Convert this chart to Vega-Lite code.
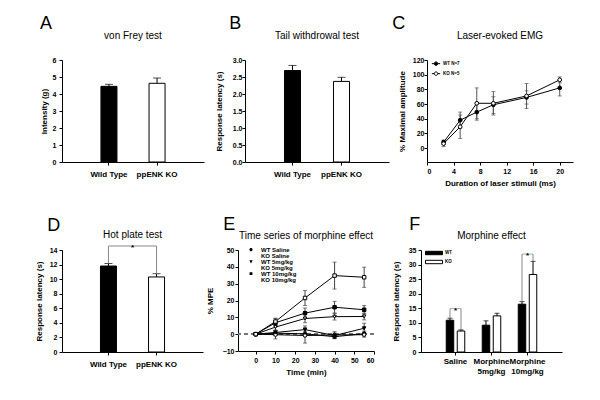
{
"$schema": "https://vega.github.io/schema/vega-lite/v6.json",
"padding": {"left": 35, "top": 15, "right": 5, "bottom": 5},
"config": {
 "font": "Liberation Sans",
 "view": {"stroke": null},
 "axis": {"domainColor": "black", "tickColor": "black", "labelColor": "black", "titleColor": "black", "labelFontWeight": "bold", "labelFontSize": 7, "titleFontSize": 8, "titleFontWeight": "bold", "grid": false, "tickSize": 3, "labelPadding": 2, "titlePadding": 5},
 "title": {"fontSize": 10, "fontWeight": "normal", "color": "black", "font": "Liberation Sans"},
 "legend": {"labelColor": "black"}
},
"resolve": {"scale": {"fill": "independent", "shape": "independent"}, "legend": {"fill": "independent", "shape": "independent"}},
"datasets": {
 "A": [{"g": "Wild Type", "v": 4.45, "hi": 4.57}, {"g": "ppENK KO", "v": 4.63, "hi": 4.94}],
 "B": [{"g": "Wild Type", "v": 2.69, "hi": 2.84}, {"g": "ppENK KO", "v": 2.37, "hi": 2.49}],
 "D": [{"g": "Wild Type", "v": 11.8, "hi": 12.15}, {"g": "ppENK KO", "v": 10.3, "hi": 10.75}],
 "Dbr": [{"g": "Wild Type", "y": 12.15, "o": 0}, {"g": "Wild Type", "y": 14.55, "o": 1}, {"g": "ppENK KO", "y": 14.55, "o": 2}, {"g": "ppENK KO", "y": 10.75, "o": 3}],
 "Dstar": [{"g": "Wild Type", "y": 14.55}],
 "C": [
  {"s": "WT N=7", "x": 2.5, "v": 8, "lo": 5, "hi": 11},
  {"s": "WT N=7", "x": 5, "v": 38, "lo": 27, "hi": 49},
  {"s": "WT N=7", "x": 7.5, "v": 49, "lo": 38, "hi": 60},
  {"s": "WT N=7", "x": 10, "v": 59, "lo": 47, "hi": 70},
  {"s": "WT N=7", "x": 15, "v": 69, "lo": 60, "hi": 78},
  {"s": "WT N=7", "x": 20, "v": 82, "lo": 71, "hi": 93},
  {"s": "KO N=5", "x": 2.5, "v": 6, "lo": 2, "hi": 10},
  {"s": "KO N=5", "x": 5, "v": 29, "lo": 13, "hi": 45},
  {"s": "KO N=5", "x": 7.5, "v": 61, "lo": 40, "hi": 82},
  {"s": "KO N=5", "x": 10, "v": 61, "lo": 45, "hi": 77},
  {"s": "KO N=5", "x": 15, "v": 71, "lo": 54, "hi": 88},
  {"s": "KO N=5", "x": 20, "v": 93, "lo": 89, "hi": 97}
 ],
 "E": [
  {"s": "WT Saline", "dose": "Saline", "x": 0, "v": 0, "lo": 0, "hi": 0},
  {"s": "WT Saline", "dose": "Saline", "x": 10, "v": 0.6, "lo": -0.9, "hi": 2.1},
  {"s": "WT Saline", "dose": "Saline", "x": 25, "v": 0.2, "lo": -1.3, "hi": 1.7},
  {"s": "WT Saline", "dose": "Saline", "x": 40, "v": -1.5, "lo": -2.7, "hi": -0.3},
  {"s": "WT Saline", "dose": "Saline", "x": 55, "v": 0.3, "lo": -1.2, "hi": 1.8},
  {"s": "KO Saline", "dose": "Saline", "x": 0, "v": 0, "lo": 0, "hi": 0},
  {"s": "KO Saline", "dose": "Saline", "x": 10, "v": -0.3, "lo": -2.8, "hi": 2.2},
  {"s": "KO Saline", "dose": "Saline", "x": 25, "v": -0.8, "lo": -5.3, "hi": 3.7},
  {"s": "KO Saline", "dose": "Saline", "x": 40, "v": -0.5, "lo": -2.5, "hi": 1.5},
  {"s": "KO Saline", "dose": "Saline", "x": 55, "v": -0.3, "lo": -1.8, "hi": 1.2},
  {"s": "WT 5mg/kg", "dose": "5mg/kg", "x": 0, "v": 0, "lo": 0, "hi": 0},
  {"s": "WT 5mg/kg", "dose": "5mg/kg", "x": 10, "v": 1, "lo": -0.5, "hi": 2.5},
  {"s": "WT 5mg/kg", "dose": "5mg/kg", "x": 25, "v": 2.7, "lo": 0.5, "hi": 4.9},
  {"s": "WT 5mg/kg", "dose": "5mg/kg", "x": 40, "v": -0.8, "lo": -2.3, "hi": 0.7},
  {"s": "WT 5mg/kg", "dose": "5mg/kg", "x": 55, "v": 3.5, "lo": 0.5, "hi": 6.5},
  {"s": "KO 5mg/kg", "dose": "5mg/kg", "x": 0, "v": 0, "lo": 0, "hi": 0},
  {"s": "KO 5mg/kg", "dose": "5mg/kg", "x": 10, "v": 4.2, "lo": 2.2, "hi": 6.2},
  {"s": "KO 5mg/kg", "dose": "5mg/kg", "x": 25, "v": 9.3, "lo": 6.8, "hi": 11.8},
  {"s": "KO 5mg/kg", "dose": "5mg/kg", "x": 40, "v": 10.4, "lo": 8.4, "hi": 12.4},
  {"s": "KO 5mg/kg", "dose": "5mg/kg", "x": 55, "v": 10.5, "lo": 8.5, "hi": 12.5},
  {"s": "WT 10mg/kg", "dose": "10mg/kg", "x": 0, "v": 0, "lo": 0, "hi": 0},
  {"s": "WT 10mg/kg", "dose": "10mg/kg", "x": 10, "v": 6.8, "lo": 4.3, "hi": 9.3},
  {"s": "WT 10mg/kg", "dose": "10mg/kg", "x": 25, "v": 12.5, "lo": 9.5, "hi": 15.5},
  {"s": "WT 10mg/kg", "dose": "10mg/kg", "x": 40, "v": 16, "lo": 12.5, "hi": 19.5},
  {"s": "WT 10mg/kg", "dose": "10mg/kg", "x": 55, "v": 14.5, "lo": 12, "hi": 17},
  {"s": "KO 10mg/kg", "dose": "10mg/kg", "x": 0, "v": 0, "lo": 0, "hi": 0},
  {"s": "KO 10mg/kg", "dose": "10mg/kg", "x": 10, "v": 7.5, "lo": 5.5, "hi": 9.5},
  {"s": "KO 10mg/kg", "dose": "10mg/kg", "x": 25, "v": 21.5, "lo": 17, "hi": 26},
  {"s": "KO 10mg/kg", "dose": "10mg/kg", "x": 40, "v": 34.8, "lo": 26.8, "hi": 42.8},
  {"s": "KO 10mg/kg", "dose": "10mg/kg", "x": 55, "v": 33.8, "lo": 27.8, "hi": 39.8}
 ],
 "F": [
  {"g": "Saline", "s": "WT", "v": 10.9, "hi": 11.6},
  {"g": "Saline", "s": "KO", "v": 7.2, "hi": 7.6},
  {"g": "Morphine 5mg/kg", "s": "WT", "v": 9.2, "hi": 10.7},
  {"g": "Morphine 5mg/kg", "s": "KO", "v": 12.4, "hi": 13.3},
  {"g": "Morphine 10mg/kg", "s": "WT", "v": 16.4, "hi": 17.3},
  {"g": "Morphine 10mg/kg", "s": "KO", "v": 26.6, "hi": 31.1}
 ],
 "Fleg": [
  {"g": "Saline", "s": "WT", "y1": 11.6, "y2": 14.9},
  {"g": "Saline", "s": "KO", "y1": 7.6, "y2": 14.9},
  {"g": "Morphine 10mg/kg", "s": "WT", "y1": 17.3, "y2": 33.6},
  {"g": "Morphine 10mg/kg", "s": "KO", "y1": 31.1, "y2": 33.6}
 ],
 "Fstar": [{"g": "Saline", "y": 14.9}, {"g": "Morphine 10mg/kg", "y": 33.6}]
},
"spacing": 29,
"vconcat": [
 {"resolve": {"scale": {"fill": "independent", "shape": "independent"}, "legend": {"fill": "independent", "shape": "independent"}},
  "spacing": 11,
  "hconcat": [
  {"title": {"text": "A", "anchor": "start", "fontSize": 18, "fontWeight": "normal", "offset": -2, "dx": 0},
   "vconcat": [{
    "width": 142, "height": 102,
    "title": {"text": "von Frey test", "offset": 15},
    "data": {"name": "A"},
    "encoding": {
     "x": {"field": "g", "type": "nominal", "sort": null, "scale": {"paddingInner": 0.667, "paddingOuter": 0.81}, "axis": {"title": null, "labelAngle": 0, "labelFontSize": 8, "labelPadding": 5}},
     "y": {"field": "v", "type": "quantitative", "scale": {"domain": [0, 6], "nice": false}, "axis": {"title": "Intensity (g)", "values": [0, 1, 2, 3, 4, 5, 6], "titlePadding": 4, "labelPadding": 3}}
    },
    "layer": [
     {"mark": {"type": "bar", "stroke": "black", "strokeWidth": 1}, "encoding": {"fill": {"field": "g", "type": "nominal", "scale": {"domain": ["Wild Type", "ppENK KO"], "range": ["black", "white"]}, "legend": null}}},
     {"mark": {"type": "rule", "color": "black"}, "encoding": {"y2": {"field": "hi"}}},
     {"mark": {"type": "tick", "orient": "horizontal", "size": 8, "thickness": 1, "color": "black"}, "encoding": {"y": {"field": "hi", "type": "quantitative"}}}
    ]
   }]
  },
  {"resolve": {"scale": {"fill": "independent", "shape": "independent"}, "legend": {"fill": "independent", "shape": "independent"}},
   "spacing": 3,
   "hconcat": [
   {"title": {"text": "B", "anchor": "start", "fontSize": 18, "fontWeight": "normal", "offset": -2, "dx": 14},
    "vconcat": [{
     "width": 144, "height": 102,
     "title": {"text": "Tail withdrowal test", "offset": 15},
     "data": {"name": "B"},
     "encoding": {
      "x": {"field": "g", "type": "nominal", "sort": null, "scale": {"paddingInner": 0.673, "paddingOuter": 0.806}, "axis": {"title": null, "labelAngle": 0, "labelFontSize": 8, "labelPadding": 5}},
      "y": {"field": "v", "type": "quantitative", "scale": {"domain": [0, 3], "nice": false}, "axis": {"title": "Response latency (s)", "values": [0, 0.5, 1, 1.5, 2, 2.5, 3], "format": ".1f", "titlePadding": 9, "labelPadding": 0}}
     },
     "layer": [
      {"mark": {"type": "bar", "stroke": "black", "strokeWidth": 1}, "encoding": {"fill": {"field": "g", "type": "nominal", "scale": {"domain": ["Wild Type", "ppENK KO"], "range": ["black", "white"]}, "legend": null}}},
      {"mark": {"type": "rule", "color": "black"}, "encoding": {"y2": {"field": "hi"}}},
      {"mark": {"type": "tick", "orient": "horizontal", "size": 8, "thickness": 1, "color": "black"}, "encoding": {"y": {"field": "hi", "type": "quantitative"}}}
     ]
    }]
   },
   {"title": {"text": "C", "anchor": "start", "fontSize": 18, "fontWeight": "normal", "offset": -2, "dx": -6},
    "vconcat": [{
     "width": 146, "height": 102,
     "title": {"text": "Laser-evoked EMG", "offset": 15},
     "data": {"name": "C"},
     "encoding": {
      "x": {"field": "x", "type": "quantitative", "scale": {"domain": [0, 22], "nice": false}, "axis": {"title": "Duration of laser stimuli  (ms)", "values": [0, 4, 8, 12, 16, 20]}},
      "y": {"field": "v", "type": "quantitative", "scale": {"domain": [-19, 120], "nice": false, "zero": false}, "axis": {"title": "% Maximal amplitude", "values": [0, 20, 40, 60, 80, 100, 120], "titlePadding": 6, "labelPadding": 0}}
     },
     "layer": [
      {"mark": {"type": "rule", "color": "#555", "strokeWidth": 1}, "encoding": {"y": {"field": "lo", "type": "quantitative"}, "y2": {"field": "hi"}, "detail": {"field": "s"}}},
      {"mark": {"type": "tick", "orient": "horizontal", "size": 4, "thickness": 1, "color": "#555"}, "encoding": {"y": {"field": "lo", "type": "quantitative"}}},
      {"mark": {"type": "tick", "orient": "horizontal", "size": 4, "thickness": 1, "color": "#555"}, "encoding": {"y": {"field": "hi", "type": "quantitative"}}},
      {"mark": {"type": "line", "color": "black", "strokeWidth": 1}, "encoding": {"detail": {"field": "s"}}},
      {"mark": {"type": "point", "shape": "circle", "stroke": "black", "strokeWidth": 1, "size": 14, "opacity": 1},
       "encoding": {"fill": {"field": "s", "type": "nominal", "scale": {"domain": ["WT N=7", "KO N=5"], "range": ["black", "white"]},
        "legend": {"title": null, "orient": "none", "legendX": 4, "legendY": -1, "symbolType": "M-1,0H-0.42M0.42,0H1M-0.42,0A0.42,0.42 0 1,1 0.42,0A0.42,0.42 0 1,1 -0.42,0Z", "symbolSize": 69, "symbolStrokeColor": "black", "symbolStrokeWidth": 1, "labelFontSize": 4.5, "labelFontWeight": "bold", "clipHeight": 9.3, "labelOffset": 2, "rowPadding": 0, "padding": 0}}}}
     ]
    }]
   }
  ]}
 ]},
 {"resolve": {"scale": {"fill": "independent", "shape": "independent"}, "legend": {"fill": "independent", "shape": "independent"}},
  "spacing": 3,
  "hconcat": [
  {"title": {"text": "D", "anchor": "start", "fontSize": 18, "fontWeight": "normal", "offset": -5, "dx": 12},
   "vconcat": [{
    "width": 141, "height": 102,
    "title": {"text": "Hot plate test", "offset": 4},
    "data": {"name": "D"},
    "encoding": {
     "x": {"field": "g", "type": "nominal", "sort": null, "scale": {"domain": ["Wild Type", "ppENK KO"], "paddingInner": 0.667, "paddingOuter": 0.8}, "axis": {"title": null, "labelAngle": 0, "labelFontSize": 8, "labelPadding": 5}},
     "y": {"field": "v", "type": "quantitative", "scale": {"domain": [0, 14], "nice": false}, "axis": {"title": "Response latency  (s)", "values": [0, 2, 4, 6, 8, 10, 12, 14], "titlePadding": 6, "labelPadding": 2}}
    },
    "layer": [
     {"mark": {"type": "bar", "stroke": "black", "strokeWidth": 1}, "encoding": {"fill": {"field": "g", "type": "nominal", "scale": {"domain": ["Wild Type", "ppENK KO"], "range": ["black", "white"]}, "legend": null}}},
     {"mark": {"type": "rule", "color": "black"}, "encoding": {"y2": {"field": "hi"}}},
     {"mark": {"type": "tick", "orient": "horizontal", "size": 8, "thickness": 1, "color": "black"}, "encoding": {"y": {"field": "hi", "type": "quantitative"}}},
     {"data": {"name": "Dbr"}, "mark": {"type": "line", "color": "#888", "strokeWidth": 1}, "encoding": {"x": {"field": "g", "type": "nominal", "bandPosition": 0.5}, "y": {"field": "y", "type": "quantitative"}, "order": {"field": "o"}}},
     {"data": {"name": "Dstar"}, "mark": {"type": "text", "text": "*", "fontSize": 8, "fontWeight": "bold", "baseline": "alphabetic", "dx": 24, "dy": 4, "color": "black"}, "encoding": {"y": {"field": "y", "type": "quantitative"}}}
    ]
   }]
  },
  {"resolve": {"scale": {"fill": "independent", "shape": "independent"}, "legend": {"fill": "independent", "shape": "independent"}},
   "spacing": 17,
   "hconcat": [
   {"title": {"text": "E", "anchor": "start", "fontSize": 18, "fontWeight": "normal", "offset": -3, "dx": 17},
    "vconcat": [{
     "width": 136, "height": 101,
     "title": {"text": "Time series of morphine effect", "offset": 5},
     "data": {"name": "E"},
     "encoding": {
      "x": {"field": "x", "type": "quantitative", "scale": {"domain": [-9, 60], "nice": false, "zero": false}, "axis": {"title": "Time  (min)", "values": [0, 10, 20, 30, 40, 50, 60]}},
      "y": {"field": "v", "type": "quantitative", "scale": {"domain": [-10, 50], "nice": false, "zero": false}, "axis": {"title": "% MPE", "values": [-10, 0, 10, 20, 30, 40, 50], "titlePadding": 8, "labelPadding": 1}}
     },
     "layer": [
      {"mark": {"type": "rule", "color": "#777", "strokeDash": [4, 3], "strokeWidth": 1}, "encoding": {"x": null, "y": {"datum": 0}}},
      {"mark": {"type": "rule", "color": "#444", "strokeWidth": 1}, "encoding": {"y": {"field": "lo", "type": "quantitative"}, "y2": {"field": "hi"}, "detail": {"field": "s"}}},
      {"mark": {"type": "tick", "orient": "horizontal", "size": 4, "thickness": 1, "color": "#444"}, "encoding": {"y": {"field": "lo", "type": "quantitative"}}},
      {"mark": {"type": "tick", "orient": "horizontal", "size": 4, "thickness": 1, "color": "#444"}, "encoding": {"y": {"field": "hi", "type": "quantitative"}}},
      {"mark": {"type": "line", "color": "black", "strokeWidth": 1}, "encoding": {"detail": {"field": "s"}}},
      {"mark": {"type": "point", "stroke": "black", "strokeWidth": 1, "size": 12, "opacity": 1},
       "encoding": {
        "shape": {"condition": [{"test": "datum.dose == 'Saline'", "value": "circle"}, {"test": "datum.dose == '10mg/kg'", "value": "square"}], "value": "triangle-down"},
        "fill": {"condition": {"test": "indexof(datum.s, 'WT') == 0", "value": "black"}, "value": "white"}
       }},
      {"transform": [{"filter": "false"}],
       "mark": {"type": "point", "stroke": "black", "strokeWidth": 1, "opacity": 1},
       "encoding": {
        "shape": {"field": "s", "type": "nominal", "scale": {"domain": ["WT Saline", "KO Saline", "WT 5mg/kg", "KO 5mg/kg", "WT 10mg/kg", "KO 10mg/kg"],
          "range": ["M-1,0H-0.35M0.35,0H1M-0.35,0A0.35,0.35 0 1,1 0.35,0A0.35,0.35 0 1,1 -0.35,0Z", "M-1,0H-0.35M0.35,0H1M-0.35,0A0.35,0.35 0 1,1 0.35,0A0.35,0.35 0 1,1 -0.35,0Z", "M-1,0H-0.38M0.38,0H1M-0.38,-0.3H0.38L0,0.38Z", "M-1,0H-0.38M0.38,0H1M-0.38,-0.3H0.38L0,0.38Z", "M-1,0H-0.32M0.32,0H1M-0.32,-0.32H0.32V0.32H-0.32Z", "M-1,0H-0.32M0.32,0H1M-0.32,-0.32H0.32V0.32H-0.32Z"]},
         "legend": {"title": null, "orient": "none", "legendX": 8, "legendY": -3, "symbolSize": 81, "symbolOpacity": 1, "symbolStrokeColor": "black", "symbolStrokeWidth": 1, "labelFontSize": 6, "labelFontWeight": "bold", "clipHeight": 5.35, "labelOffset": 5, "rowPadding": -1.25, "padding": 0}},
        "fill": {"field": "s", "type": "nominal", "scale": {"domain": ["WT Saline", "KO Saline", "WT 5mg/kg", "KO 5mg/kg", "WT 10mg/kg", "KO 10mg/kg"], "range": ["black", "white", "black", "white", "black", "white"]},
         "legend": {"title": null, "orient": "none", "legendX": 8, "legendY": -3, "symbolSize": 81, "symbolOpacity": 1, "symbolStrokeColor": "black", "symbolStrokeWidth": 1, "labelFontSize": 6, "labelFontWeight": "bold", "clipHeight": 5.35, "labelOffset": 5, "rowPadding": -1.25, "padding": 0}}
       }}
     ]
    }]
   },
   {"title": {"text": "F", "anchor": "start", "fontSize": 18, "fontWeight": "normal", "offset": -3, "dx": 17},
    "vconcat": [{
     "width": 141, "height": 102,
     "title": {"text": "Morphine effect", "offset": 5},
     "data": {"name": "F"},
     "encoding": {
      "x": {"field": "g", "type": "nominal", "sort": null, "scale": {"domain": ["Saline", "Morphine 5mg/kg", "Morphine 10mg/kg"], "paddingInner": 0.4, "paddingOuter": 0.658}, "axis": {"title": null, "labelAngle": 0, "labelFontSize": 8, "labelPadding": 2, "labelLineHeight": 10, "labelExpr": "datum.label == 'Saline' ? 'Saline' : split(datum.label, ' ')"}},
      "y": {"field": "v", "type": "quantitative", "scale": {"domain": [0, 35], "nice": false}, "axis": {"title": "Response latency  (s)", "values": [0, 5, 10, 15, 20, 25, 30, 35], "titlePadding": 8, "labelPadding": 2}}
     },
     "layer": [
      {"mark": {"type": "bar", "stroke": "black", "strokeWidth": 1}, "encoding": {
       "xOffset": {"field": "s", "type": "nominal", "scale": {"domain": ["WT", "KO"], "paddingInner": 0.32, "paddingOuter": 0.14}},
       "fill": {"field": "s", "type": "nominal", "scale": {"domain": ["WT", "KO"], "range": ["black", "white"]},
        "legend": {"title": null, "orient": "none", "legendX": 4, "legendY": -1.5, "symbolType": "M-1,-0.2H1V0.2H-1Z", "symbolSize": 289, "symbolStrokeColor": "black", "symbolStrokeWidth": 1, "labelFontSize": 4.5, "labelFontWeight": "bold", "clipHeight": 9, "labelOffset": 2, "rowPadding": 0, "padding": 0}}}},
      {"mark": {"type": "rule", "color": "black"}, "encoding": {"xOffset": {"field": "s", "type": "nominal"}, "y2": {"field": "hi"}}},
      {"mark": {"type": "tick", "orient": "horizontal", "size": 5, "thickness": 1, "color": "black"}, "encoding": {"xOffset": {"field": "s", "type": "nominal"}, "y": {"field": "hi", "type": "quantitative"}}},
      {"data": {"name": "Fleg"}, "mark": {"type": "rule", "color": "#888", "strokeWidth": 1}, "encoding": {"xOffset": {"field": "s", "type": "nominal"}, "y": {"field": "y1", "type": "quantitative"}, "y2": {"field": "y2"}}},
      {"data": {"name": "Fstar"}, "mark": {"type": "tick", "orient": "horizontal", "size": 11, "thickness": 1, "color": "#888"}, "encoding": {"y": {"field": "y", "type": "quantitative"}}},
      {"data": {"name": "Fstar"}, "mark": {"type": "text", "text": "*", "fontSize": 8, "fontWeight": "bold", "baseline": "alphabetic", "dy": 4, "color": "black"}, "encoding": {"y": {"field": "y", "type": "quantitative"}}}
     ]
    }]
   }
  ]}
 ]}
]
}
